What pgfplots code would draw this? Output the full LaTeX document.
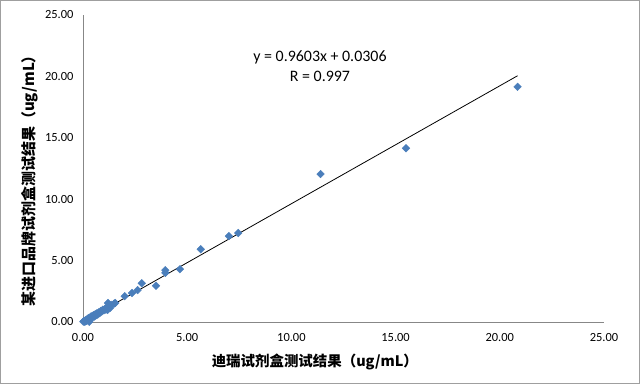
\documentclass[border=0pt]{standalone}
\usepackage{pgfplots}
\pgfplotsset{compat=1.18}
\usepackage{fontspec}
\setmainfont{Carlito}
\newfontfamily\cjk{Noto Sans CJK SC}
\definecolor{mk}{HTML}{4A7EBB}
\definecolor{ax}{HTML}{878787}
\begin{document}
\begin{tikzpicture}
\useasboundingbox (0,0) rectangle (640bp,384bp);
\draw[color=ax!80, line width=0.8bp] (0.5bp,0.5bp) rectangle (639.5bp,383.5bp);
\begin{axis}[
  at={(83bp,62bp)}, anchor=south west,
  scale only axis, width=521bp, height=307bp,
  xmin=0, xmax=25, ymin=0, ymax=25,
  xtick={0,5,...,25}, ytick={0,5,...,25},
  axis x line*=bottom, axis y line*=left,
  axis line style={color=ax, line width=0.8bp, -},
  major tick length=0pt,
  tick label style={font=\fontsize{12.5}{14}\selectfont, color=black},
  /pgf/number format/assume math mode=true,
  /pgf/number format/.cd, fixed, fixed zerofill, precision=2, /pgfplots/.cd,
  xticklabel style={yshift=-8bp},
  yticklabel style={xshift=-6bp},
  clip=false,
  xlabel={\cjk\bfseries 迪瑞试剂盒测试结果（ug/mL）},
  ylabel={\cjk\bfseries 某进口品牌试剂盒测试结果（ug/mL）},
  xlabel style={font=\fontsize{14.5}{16}\selectfont, at={(axis description cs:0.445,0)}, anchor=center, yshift=-40bp},
  ylabel style={font=\fontsize{15}{16}\selectfont, at={(axis description cs:0,0.472)}, anchor=center, yshift=53bp},
]
\addplot[only marks, mark=square*, mark size=2.7bp, color=mk, mark options={fill=mk, draw=mk, rotate=45}] table {
x y
0.02 0.03
0.05 0.08
0.08 0.02
0.10 0.12
0.12 0.05
0.15 0.18
0.18 0.10
0.20 0.22
0.22 0.15
0.25 0.30
0.28 0.20
0.30 0.02
0.30 0.35
0.32 0.25
0.35 0.28
0.38 0.45
0.40 0.32
0.42 0.38
0.45 0.50
0.48 0.40
0.50 0.55
0.55 0.45
0.58 0.62
0.62 0.55
0.65 0.70
0.70 0.60
0.75 0.78
0.80 0.72
0.85 0.90
0.90 0.85
0.95 1.00
1.00 0.95
1.05 1.08
1.10 1.00
1.15 1.20
1.18 0.98
1.20 1.55
1.25 1.30
1.30 1.15
1.35 1.40
1.50 1.50
1.55 1.55
2.00 2.10
2.35 2.36
2.62 2.60
2.82 3.15
3.50 2.95
3.95 4.22
3.95 4.00
4.65 4.30
5.65 5.92
7.00 7.00
7.45 7.25
11.40 12.05
15.50 14.15
20.85 19.15
};
\addplot[black, line width=0.8bp] coordinates {(0,0.0306) (20.85,20.05)};
\node[align=center, font=\fontsize{16}{20}\selectfont] at (axis cs:11.37,20.8) {y = 0.9603x + 0.0306\\R = 0.997};
\end{axis}
\end{tikzpicture}
\end{document}
